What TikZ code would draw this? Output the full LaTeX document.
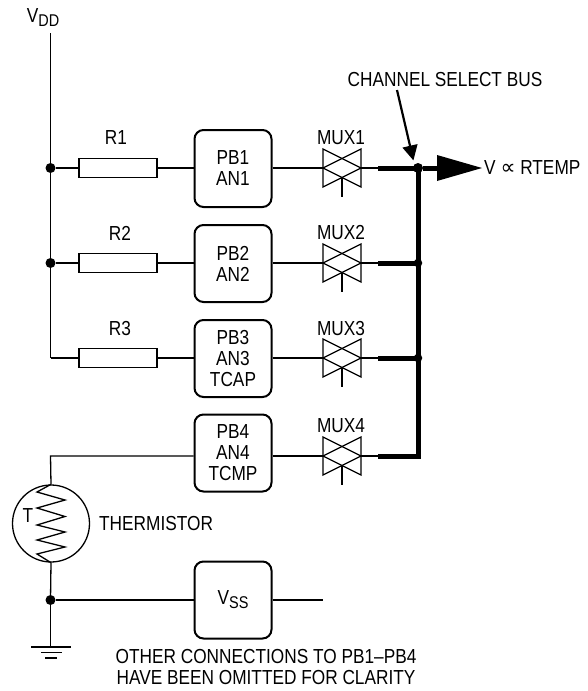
\documentclass[tikz,border=0pt]{standalone}
\usepackage{fontspec}
\setmainfont[FakeStretch=0.85]{Liberation Sans}
\usetikzlibrary{arrows.meta}
\newcommand{\lbl}{\fontsize{20.3}{21}\selectfont}
\newcommand{\subs}[1]{\raisebox{-4pt}{\fontsize{17}{18}\selectfont #1}}
\tikzset{
 wire/.style={line width=1.3pt},
 bus/.style={line width=5pt},
 txt/.style={inner sep=0pt,font=\lbl,align=center},
 pinbox/.style={draw,line width=2pt,rounded corners=9pt,minimum width=77pt,minimum height=77pt,inner sep=0pt,align=center,font=\lbl},
 res/.style={draw,line width=1.3pt,minimum width=78pt,minimum height=19pt,inner sep=0pt},
 dot/.style={circle,fill=black,inner sep=0pt,minimum size=10pt},
 sdot/.style={circle,fill=black,inner sep=0pt,minimum size=8.5pt},
 muxref/.style={minimum width=38pt,minimum height=38pt,inner sep=0pt,outer sep=0pt},
}
\newcommand{\muxdraw}[1]{%
 \draw[wire,line join=miter] (#1.north west) -- (#1.east) -- (#1.south west) -- cycle;
 \draw[wire,line join=miter] (#1.north east) -- (#1.west) -- (#1.south east) -- cycle;
 \coordinate (#1g) at ([yshift=-10pt]#1.center);
 \coordinate (#1s) at ([yshift=-29pt]#1.center);
 \draw[wire] (#1g) -- (#1s);
}
\begin{document}
\begin{tikzpicture}[x=1pt,y=-1pt]
\useasboundingbox (0,0) rectangle (587,691);
% text
\node[txt] (vdd) at (43,18) {V\subs{DD}};
\node[txt] (busl) at (445,80) {CHANNEL SELECT BUS};
\node[txt] at (116,138) (lr1) {R1};
\node[txt] at (120,233) (lr2) {R2};
\node[txt] at (120,329) (lr3) {R3};
\node[txt] at (341,138) (lm1) {MUX1};
\node[txt] at (341,233) (lm2) {MUX2};
\node[txt] at (341,329) (lm3) {MUX3};
\node[txt] at (341,426) (lm4) {MUX4};
% rail nodes
\node[dot] (j1) at (50.5,168) {};
\node[dot] (j2) at (50.5,263) {};
\coordinate (j3) at (50.5,358);
\coordinate (top) at (50.5,33);
\draw[wire] (top) -- (j3);
% resistors
\node[res] (r1) at (118,168) {};
\node[res] (r2) at (118,263) {};
\node[res] (r3) at (118,358) {};
% boxes
\node[pinbox] (p1) at (233,168.5) {PB1\\AN1};
\node[pinbox] (p2) at (233,263.5) {PB2\\AN2};
\node[pinbox] (p3) at (233,358.5) {PB3\\AN3\\TCAP};
\node[pinbox] (p4) at (233,453) {PB4\\AN4\\TCMP};
\node[pinbox] (vss) at (233,600) {V\subs{SS}};
% mux
\node[muxref] (m1) at (342,168) {};
\node[muxref] (m2) at (342,263) {};
\node[muxref] (m3) at (342,358) {};
\node[muxref] (m4) at (342,456) {};
\muxdraw{m1}\muxdraw{m2}\muxdraw{m3}\muxdraw{m4}
% wires
\draw[wire] (j1) -- (r1) (r1) -- (p1.west |- r1) (p1.east |- m1.west) -- (m1.west);
\draw[wire] (j2) -- (r2) (r2) -- (p2.west |- r2) (p2.east |- m2.west) -- (m2.west);
\draw[wire] (j3) -- (r3) (r3) -- (p3.west |- r3) (p3.east |- m3.west) -- (m3.west);
\draw[wire] (p4.east |- m4.west) -- (m4.west);
% bus
\node[dot] (b1) at (418,168) {};
\node[sdot] (b2) at (418,263) {};
\node[sdot] (b3) at (418,358) {};
\coordinate (b4) at (418,456);
\coordinate (o1) at (378,168);
\coordinate (o2) at (378,263);
\coordinate (o3) at (378,358);
\coordinate (o4) at (378,456);
\draw[wire] (m1.east) -- (o1) (m2.east) -- (o2) (m3.east) -- (o3) (m4.east) -- (o4);
\draw[bus,line cap=rect] (418,168) -- (b4);
\draw[bus] (o1) -- (418,168);\draw[bus] (o2) -- (418,263);\draw[bus] (o3) -- (418,358);\draw[bus] (o4) -- (b4);
% output
\coordinate (tip) at (482,168);
\coordinate (base) at (437,168);
\draw[bus] (b1) -- (base);
\fill (437,155) -- (tip) -- (437,181) -- cycle;
\node[txt,anchor=west] (vout) at (484,168) {V {\fontspec{DejaVu Sans}\fontsize{21}{21}\selectfont ∝} RTEMP};
% pointer
\coordinate (pstart) at (397,90);
\draw[line width=2.2pt,-{Triangle[length=15pt,width=15pt]},shorten >=4pt] (pstart) -- (b1.north west);
% thermistor
\node[draw,circle,line width=1.3pt,minimum size=77pt,inner sep=0pt] (th) at (51,523.5) {};
\node[txt] (tt) at (28,516) {T};
\node[txt,anchor=west] (thl) at (99,524) {THERMISTOR};
\draw[wire] (p4.west |- m4.west) -- (50.5,456) -- (th.north);
\draw[wire] (th.north) -- (37,492) -- (65,500) -- (37,508) -- (65,516.5) -- (37,525) -- (65,532) -- (37,540) -- (65,547) -- (37,554) -- (th.south);
\node[dot] (j4) at (50.5,600) {};
\draw[wire] (th.south) -- (j4);
\draw[wire] (j4) -- (vss);
\coordinate (vo) at (323,600);
\draw[wire] (vss) -- (vo);
\coordinate (g) at (50.5,647);
\draw[wire] (j4) -- (g);
\draw[wire] (31,647) -- (71,647) (41,652.5) -- (62,652.5) (45,658) -- (57,658);
\node[txt] (note) at (266,667) {OTHER CONNECTIONS TO PB1–PB4\\HAVE BEEN OMITTED FOR CLARITY};
\end{tikzpicture}
\end{document}
